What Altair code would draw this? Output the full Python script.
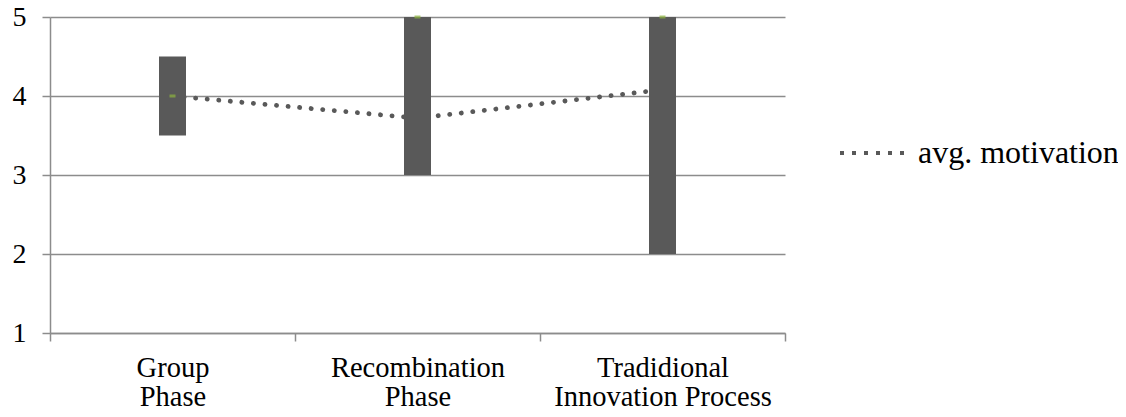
import altair as alt
import pandas as pd

# ---- data ----
categories = ["Group\nPhase", "Recombination\nPhase", "Tradidional\nInnovation Process"]
low_values = [3.5, 3.0, 2.0]
high_values = [4.5, 5.0, 5.0]
close_values = [4.0, 5.0, 5.0]
avg_motivation = [4.0, 3.72, 4.08]
y_ticks = [1, 2, 3, 4, 5]
series_name = "avg. motivation"

df = pd.DataFrame({
    "cat": categories,
    "low": low_values,
    "high": high_values,
    "close": close_values,
    "avg": avg_motivation,
    "series": [series_name] * len(categories),
})

FONT = "Liberation Serif, Times New Roman, DejaVu Serif, serif"
GRID = "#8c8c8c"
DARK = "#595959"

x_enc = alt.X(
    "cat:N",
    sort=categories,
    scale=alt.Scale(paddingInner=0, paddingOuter=0),
    axis=alt.Axis(
        title=None,
        labelAngle=0,
        labelExpr="datum.value ? split(datum.value, '\\n') : ''",
        labelFont=FONT,
        labelFontSize=28.5,
        labelLineHeight=29,
        labelColor="black",
        labelPadding=12,
        labelLimit=400,
        tickBand="extent",
        tickSize=8,
        tickColor=GRID,
        tickWidth=1.5,
        domainColor=GRID,
        domainWidth=1.5,
        grid=False,
    ),
)

y_scale = alt.Scale(domain=[1, 5], nice=False, zero=False)
y_axis = alt.Axis(
    title=None,
    values=y_ticks,
    labelFont=FONT,
    labelFontSize=28,
    labelColor="black",
    labelPadding=16,
    tickSize=8,
    tickColor=GRID,
    tickWidth=1.5,
    domainColor=GRID,
    domainWidth=1.5,
    grid=True,
    gridColor=GRID,
    gridWidth=1.5,
)

base = alt.Chart(df)

line = base.mark_line(
    strokeDash=[0.1, 11.5], strokeCap="round", strokeWidth=4.8
).encode(
    x=x_enc,
    y=alt.Y("avg:Q", scale=y_scale, axis=y_axis),
    color=alt.Color(
        "series:N",
        scale=alt.Scale(range=[DARK]),
        legend=alt.Legend(
            title=None,
            orient="none",
            legendX=788,
            legendY=102,
            padding=0,
            symbolType="stroke",
            symbolSize=4096,
            symbolStrokeWidth=4,
            symbolDash=[4, 8],
            labelFont=FONT,
            labelFontSize=32,
            labelColor="black",
            labelOffset=12,
            labelLimit=400,
        ),
    ),
)

bars = base.mark_bar(size=27, color=DARK).encode(
    x=x_enc,
    y=alt.Y("low:Q", scale=y_scale, axis=y_axis),
    y2="high:Q",
)

ticks = base.mark_tick(color="#8DB43E", thickness=3, size=6).encode(
    x=x_enc,
    y=alt.Y("close:Q", scale=y_scale, axis=y_axis),
)

chart = alt.layer(line, bars, ticks).properties(
    width=735,
    height=316,
    autosize=alt.AutoSizeParams(type="none"),
    padding={"left": 42, "top": 9, "right": 333, "bottom": 76},
).configure_view(stroke=None)

chart.save("out.html", embed_options={"renderer": "svg", "actions": False})
